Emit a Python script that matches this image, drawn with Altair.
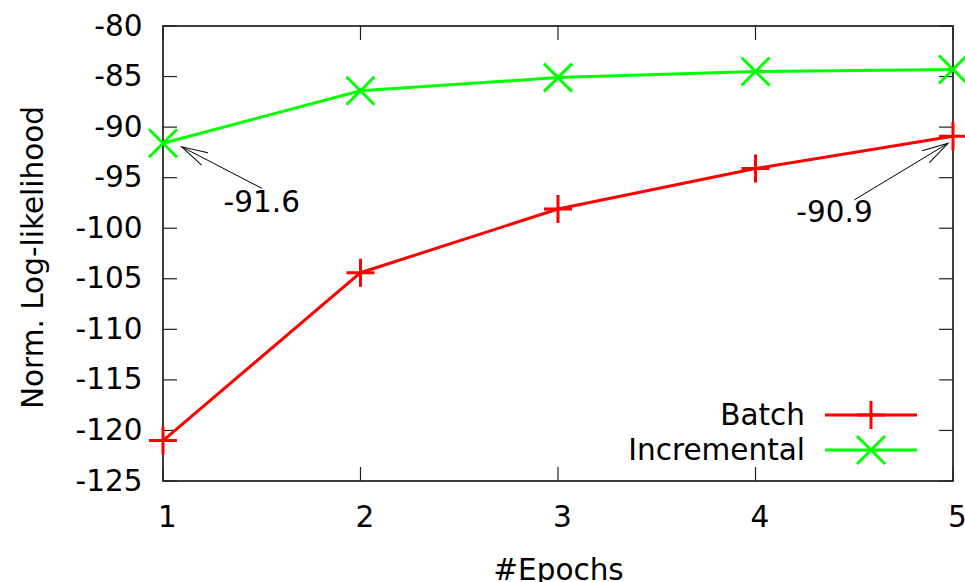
import altair as alt
import pandas as pd

# ---- data ----
epochs = [1, 2, 3, 4, 5]
batch = [-121.0, -104.4, -98.1, -94.1, -90.9]
incremental = [-91.6, -86.4, -85.1, -84.5, -84.3]

x_ticks = [1, 2, 3, 4, 5]
y_ticks = [-125, -120, -115, -110, -105, -100, -95, -90, -85, -80]

ann_labels = ["-91.6", "-90.9"]
ann_text_x = [1.50, 4.40]
ann_text_y = [-97.5, -98.5]
ann_tail_x = [1.50, 4.50]
ann_tail_y = [-96.05, -97.2]
ann_head_x = [1.095, 4.975]
ann_head_y = [-91.95, -91.6]
ann_head_angle = [207.5, 328.9]

series_names = ["Batch", "Incremental"]
series_colors = ["#ff0000", "#00ff00"]

FONT = "DejaVu Sans"
FS = 29.5
W, H = 790, 455

PLUS = "M -1 0 L 1 0 M 0 -1 L 0 1"
XSHAPE = "M -1 -1 L 1 1 M -1 1 L 1 -1"
ARROW = "M -1 -0.268 L 0 0 L -1 0.268"

df = pd.DataFrame({
    "epoch": epochs * 2,
    "value": batch + incremental,
    "series": ["Batch"] * len(epochs) + ["Incremental"] * len(epochs),
})
ann = pd.DataFrame({
    "label": ann_labels, "tx": ann_text_x, "ty": ann_text_y,
    "x0": ann_tail_x, "y0": ann_tail_y, "x1": ann_head_x, "y1": ann_head_y,
    "angle": ann_head_angle,
})
yt = pd.DataFrame({"v": y_ticks})
xt = pd.DataFrame({"v": x_ticks})

xscale = alt.Scale(domain=[1, 5], nice=False, zero=False)
yscale = alt.Scale(domain=[-125, -80], nice=False, zero=False)

xaxis = alt.Axis(values=x_ticks, title="#Epochs", labelExpr="datum.value + ''",
                 labelPadding=22, labelOffset=4, titleY=98, titleBaseline="alphabetic",
                 labelFlush=False)
yaxis = alt.Axis(values=y_ticks, title="Norm. Log-likelihood",
                 labelExpr="datum.value + ''", labelPadding=21,
                 titleX=-121, titleY=231, titleBaseline="alphabetic",
                 titleAngle=270, labelFlush=False)

X = alt.X("epoch:Q", scale=xscale, axis=xaxis)
Y = alt.Y("value:Q", scale=yscale, axis=yaxis)
color = alt.Color("series:N", scale=alt.Scale(domain=series_names, range=series_colors), legend=None)

lines = alt.Chart(df).mark_line(strokeWidth=3, clip=False).encode(x=X, y=Y, color=color, detail="series:N")

pts_b = alt.Chart(df).transform_filter("datum.series == 'Batch'").mark_point(
    shape=PLUS, size=784, filled=False, strokeWidth=3, opacity=1, color="#ff0000"
).encode(x=X, y=Y)
pts_i = alt.Chart(df).transform_filter("datum.series == 'Incremental'").mark_point(
    shape=XSHAPE, size=784, filled=False, strokeWidth=3, opacity=1, color="#00ff00"
).encode(x=X, y=Y)

# inward ticks (gnuplot style) on all four sides
tick_col = "#222222"
lt = alt.Chart(yt).mark_rule(color=tick_col, strokeWidth=1.2).encode(
    y=alt.Y("v:Q", scale=yscale), x=alt.value(0), x2=alt.value(14))
rt = alt.Chart(yt).mark_rule(color=tick_col, strokeWidth=1.2).encode(
    y=alt.Y("v:Q", scale=yscale), x=alt.value(W - 14), x2=alt.value(W))
bt = alt.Chart(xt).mark_rule(color=tick_col, strokeWidth=1.2).encode(
    x=alt.X("v:Q", scale=xscale), y=alt.value(H), y2=alt.value(H - 14))
tt = alt.Chart(xt).mark_rule(color=tick_col, strokeWidth=1.2).encode(
    x=alt.X("v:Q", scale=xscale), y=alt.value(0), y2=alt.value(14))

# annotations
ann_line = alt.Chart(ann).mark_rule(color="black", strokeWidth=1).encode(
    x=alt.X("x0:Q", scale=xscale), y=alt.Y("y0:Q", scale=yscale),
    x2="x1:Q", y2="y1:Q")
ann_head = alt.Chart(ann).mark_point(shape=ARROW, size=2704, filled=False,
                                     color="black", strokeWidth=1, opacity=1).encode(
    x=alt.X("x1:Q", scale=xscale), y=alt.Y("y1:Q", scale=yscale),
    angle=alt.Angle("angle:Q", scale=None))
ann_text = alt.Chart(ann).mark_text(font=FONT, fontSize=FS, color="black",
                                    align="center", baseline="middle").encode(
    x=alt.X("tx:Q", scale=xscale), y=alt.Y("ty:Q", scale=yscale), text="label:N")

# manual gnuplot-style key (label left of sample)
leg_df = pd.DataFrame({"series": series_names})
leg_layers = []
leg_y = [389, 424]
leg_shapes = [PLUS, XSHAPE]
for i, name in enumerate(series_names):
    d = leg_df[leg_df.series == name]
    leg_layers.append(alt.Chart(d).mark_text(font=FONT, fontSize=FS, color="black",
                                             align="right", baseline="middle", dy=1).encode(
        x=alt.value(642), y=alt.value(leg_y[i]), text="series:N"))
    leg_layers.append(alt.Chart(d).mark_rule(color=series_colors[i], strokeWidth=3).encode(
        x=alt.value(662), x2=alt.value(754), y=alt.value(leg_y[i])))
    leg_layers.append(alt.Chart(d).mark_point(shape=leg_shapes[i], size=784, filled=False,
                                              strokeWidth=3, opacity=1,
                                              color=series_colors[i]).encode(
        x=alt.value(708), y=alt.value(leg_y[i])))

chart = alt.layer(
    lt, rt, bt, tt, lines, pts_b, pts_i, ann_line, ann_head, ann_text, *leg_layers
).properties(
    width=W, height=H,
    autosize=alt.AutoSizeParams(type="none"),
    padding={"left": 163, "top": 26, "right": 12, "bottom": 101},
    background="white",
).configure_view(
    stroke="black", strokeWidth=1.5
).configure_axis(
    labelFont=FONT, labelFontSize=FS, labelColor="black",
    titleFont=FONT, titleFontSize=FS, titleColor="black", titleFontWeight="normal",
    domain=False, ticks=False, grid=False,
)

chart.save("out.html", embed_options={"renderer": "svg", "actions": False})
